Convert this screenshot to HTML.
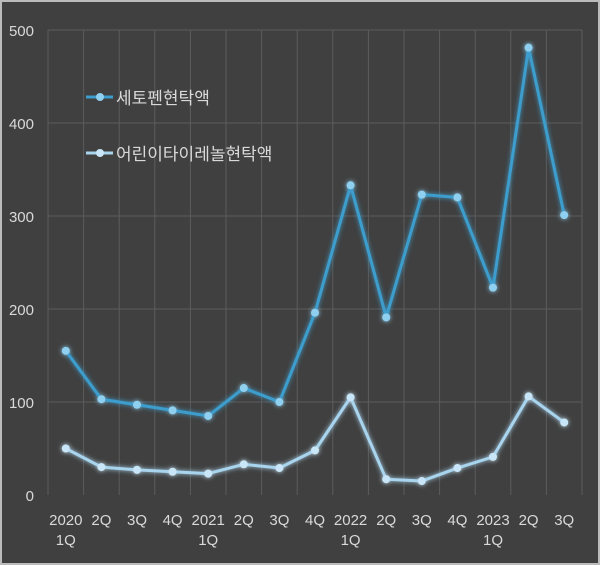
<!DOCTYPE html>
<html><head><meta charset="utf-8"><style>
body{margin:0;background:#fff}
svg{display:block;font-family:"Liberation Sans","Noto Sans CJK KR",sans-serif}
</style></head><body>
<svg id="chart" width="600" height="565">
<defs><filter id="glow" x="-10%" y="-10%" width="120%" height="120%"><feGaussianBlur stdDeviation="2.5" result="b"/><feMerge><feMergeNode in="b"/><feMergeNode in="SourceGraphic"/></feMerge></filter></defs>
<rect x="1" y="1" width="598" height="563" fill="#404040" stroke="#bbb" stroke-width="2"/>
<g id="grid"></g><g id="axes"></g><g id="series"></g>
<g>
<line x1="86" y1="97" x2="113" y2="97" stroke="#3d9dcc" stroke-width="3"/><circle cx="100" cy="97" r="4" fill="#8fd0f0"/>
<text x="116" y="104" fill="#d9d9d9" font-size="17">세토펜현탁액</text>
<line x1="86" y1="153" x2="113" y2="153" stroke="#a9d4ee" stroke-width="3"/><circle cx="100" cy="153" r="4" fill="#c8e6f7"/>
<text x="116" y="160" fill="#d9d9d9" font-size="17">어린이타이레놀현탁액</text>
</g>
</svg>
<script>
const categories=[["2020","1Q"],["2Q"],["3Q"],["4Q"],["2021","1Q"],["2Q"],["3Q"],["4Q"],["2022","1Q"],["2Q"],["3Q"],["4Q"],["2023","1Q"],["2Q"],["3Q"]];
const cetophen=[155,103,97,91,85,115,100,196,333,191,323,320,223,481,301];
const tylenol=[50,30,27,25,23,33,29,48,105,17,15,29,41,106,78];
const yTicks=[0,100,200,300,400,500];
const ns="http://www.w3.org/2000/svg";
const L=48,R=582,T=30,B=495;
const bw=(R-L)/categories.length;
const x=i=>L+bw*(i+0.5);
const y=v=>B-(v/500)*(B-T);
function mk(tag,attrs,parent){const e=document.createElementNS(ns,tag);for(const k in attrs)e.setAttribute(k,attrs[k]);parent.appendChild(e);return e;}
const grid=document.getElementById('grid'),axes=document.getElementById('axes'),ser=document.getElementById('series');
yTicks.forEach(t=>{
 if(t>0){const l=mk('line',{x1:L,x2:R,y1:y(t),y2:y(t),stroke:'#5c5c5c','stroke-width':1},grid);
 
 }
 const tx=mk('text',{x:34,y:y(t)+6,'text-anchor':'end',fill:'#d9d9d9','font-size':15},axes);tx.textContent=t;
 
 
});
for(let i=0;i<=categories.length;i++){
 const l=mk('line',{x1:L+bw*i,x2:L+bw*i,y1:T,y2:B,stroke:'#5c5c5c','stroke-width':1},grid);
 
 
}
categories.forEach((c,i)=>{
 c.forEach((s,j)=>{const tx=mk('text',{x:x(i),y:525+j*20,'text-anchor':'middle',fill:'#d9d9d9','font-size':15},axes);tx.textContent=s;
 
 });
});
function draw(vals,line,dot,name){
 const g=mk('g',{filter:'url(#glow)'},ser);
 
 
 const p=mk('polyline',{points:vals.map((v,i)=>x(i)+','+y(v)).join(' '),fill:'none',stroke:line,'stroke-width':3,'stroke-linejoin':'round'},g);
 
 
 vals.forEach((v,i)=>{const c=mk('circle',{cx:x(i),cy:y(v),r:4,fill:dot},g);
 
 });
}
draw(cetophen,'#3d9dcc','#8fd0f0','cetophen');
draw(tylenol,'#a9d4ee','#c8e6f7','tylenol');
</script>
</body></html>
